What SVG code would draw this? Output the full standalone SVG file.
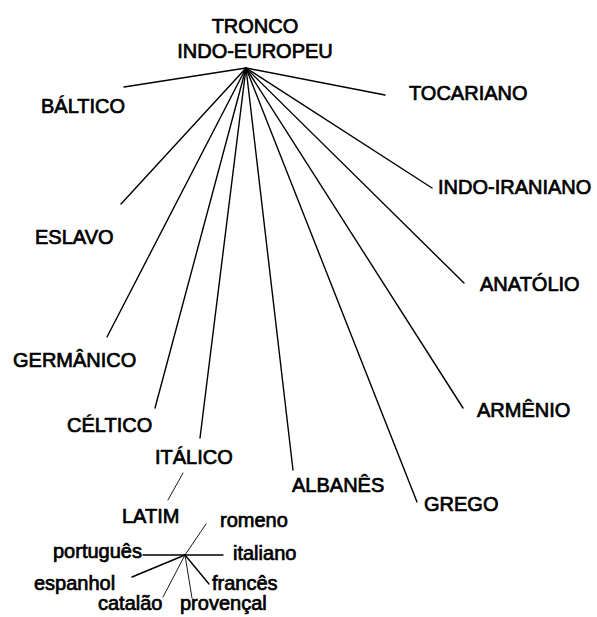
<svg xmlns="http://www.w3.org/2000/svg" width="597" height="617" viewBox="0 0 597 617">
<style>
.t{font-family:"Liberation Sans",Arial,sans-serif;font-size:20px;fill:#000;stroke:#000;stroke-width:0.7}
.c{text-anchor:middle}
.l{stroke:#000;stroke-width:1.4;fill:none;stroke-linecap:round}
.s{stroke:#000;stroke-width:0.9;fill:none;stroke-linecap:round}
</style>
<rect width="597" height="617" fill="#fff"/>
<g id="connectors">
<line class="l" x1="246" y1="68" x2="124" y2="87"/>
<line class="l" x1="246" y1="68" x2="385" y2="95"/>
<line class="l" x1="246" y1="68" x2="432" y2="188"/>
<line class="l" x1="246" y1="68" x2="464" y2="283"/>
<line class="l" x1="246" y1="68" x2="463" y2="408"/>
<line class="l" x1="246" y1="68" x2="417" y2="502"/>
<line class="l" x1="246" y1="68" x2="293" y2="470"/>
<line class="l" x1="246" y1="68" x2="200" y2="438"/>
<line class="l" x1="246" y1="68" x2="155" y2="408"/>
<line class="l" x1="246" y1="68" x2="107" y2="337"/>
<line class="l" x1="246" y1="68" x2="121" y2="204"/>
<line class="s" x1="183" y1="473" x2="168" y2="500"/>
<line class="l" x1="143" y1="555" x2="223" y2="555"/>
<line class="s" x1="185" y1="555" x2="206" y2="524"/>
<line class="l" x1="185" y1="555" x2="132" y2="577"/>
<line class="s" x1="185" y1="555" x2="163" y2="597"/>
<line class="s" x1="185" y1="555" x2="192" y2="598"/>
<line class="l" x1="185" y1="555" x2="209" y2="584"/>
</g>
<g id="tronco"><text class="t c" x="255" y="33">TRONCO</text><text class="t c" x="255" y="58">INDO-EUROPEU</text></g>
<g id="baltico"><text class="t" x="41" y="113">BÁLTICO</text></g>
<g id="eslavo"><text class="t" x="35" y="244">ESLAVO</text></g>
<g id="germanico"><text class="t" x="13" y="367">GERMÂNICO</text></g>
<g id="celtico"><text class="t" x="67" y="432">CÉLTICO</text></g>
<g id="italico"><text class="t" x="155" y="464">ITÁLICO</text></g>
<g id="latim"><text class="t" x="122" y="523">LATIM</text></g>
<g id="albanes"><text class="t" x="292" y="492">ALBANÊS</text></g>
<g id="grego"><text class="t" x="424" y="511">GREGO</text></g>
<g id="armenio"><text class="t" x="477" y="417">ARMÊNIO</text></g>
<g id="anatolio"><text class="t" x="480" y="291">ANATÓLIO</text></g>
<g id="indoiraniano"><text class="t" x="438" y="194">INDO-IRANIANO</text></g>
<g id="tocariano"><text class="t" x="409" y="100">TOCARIANO</text></g>
<g id="portugues"><text class="t" x="53" y="558">português</text></g>
<g id="espanhol"><text class="t" x="34" y="590">espanhol</text></g>
<g id="catalao"><text class="t" x="98" y="610">catalão</text></g>
<g id="provencal"><text class="t" x="180" y="610">provençal</text></g>
<g id="frances"><text class="t" x="212" y="590">francês</text></g>
<g id="italiano"><text class="t" x="233" y="560">italiano</text></g>
<g id="romeno"><text class="t" x="220" y="527">romeno</text></g>
</svg>
